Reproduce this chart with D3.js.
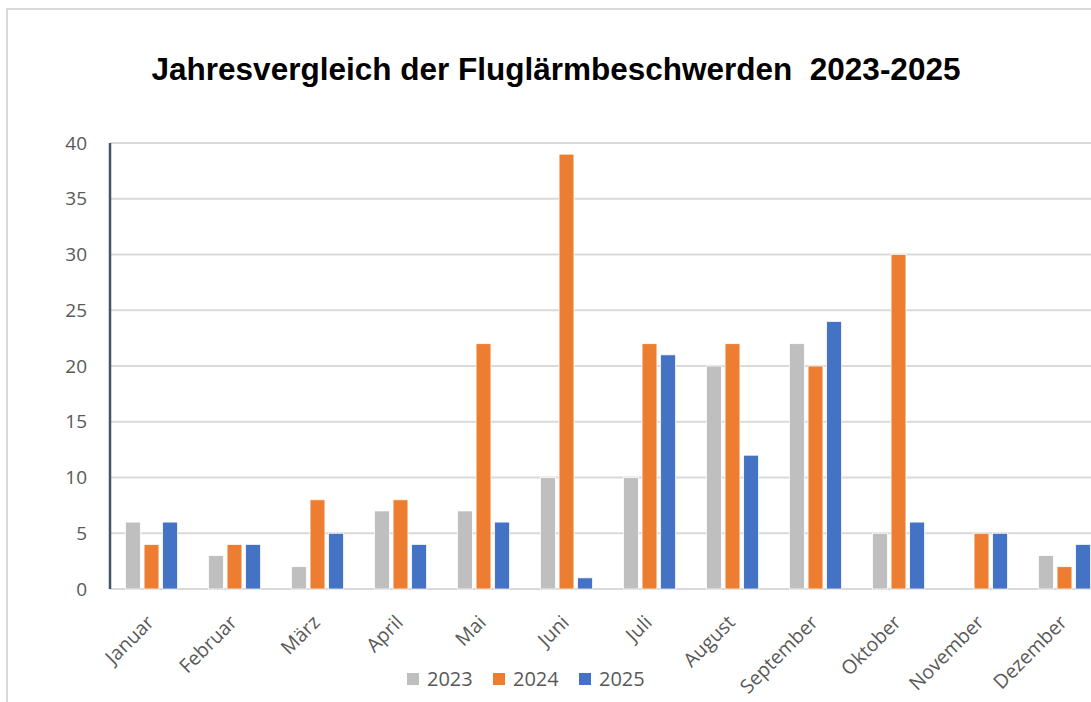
<!DOCTYPE html>
<html>
<head>
<meta charset="utf-8">
<script src="https://cdn.jsdelivr.net/npm/d3@7"></script>
<style>
    body { margin: 0; background: #fff; }
    svg { display: block; }
</style>
</head>
<body>
<svg id="chart" width="1091" height="702"></svg>
<script>
var months = ['Januar', 'Februar', 'März', 'April', 'Mai', 'Juni', 'Juli',
    'August', 'September', 'Oktober', 'November', 'Dezember'];
var years = ['2023', '2024', '2025'];
var values2023 = [6, 3, 2, 7, 7, 10, 10, 20, 22, 5, 0, 3];
var values2024 = [4, 4, 8, 8, 22, 39, 22, 22, 20, 30, 5, 2];
var values2025 = [6, 4, 5, 4, 6, 1, 21, 12, 24, 6, 5, 4];
var yTicks = [0, 5, 10, 15, 20, 25, 30, 35, 40];
var colors = ['#bfbfbf', '#ed7d31', '#4472c4'];

var seriesValues = [values2023, values2024, values2025];
var font = '"Open Sans", "Noto Sans", sans-serif';
var textColor = '#595959';

var svg = d3.select('#chart');

// Frame of the chart area (cut off at right and bottom)
svg.append('rect')
    .attr('x', 7).attr('y', 9)
    .attr('width', 1300).attr('height', 900)
    .style('fill', 'none')
    .style('stroke', '#d9d9d9')
    .style('stroke-width', 2);

var plotLeft = 110;
var step = 83;

var x0 = d3.scaleBand()
    .domain(months)
    .range([plotLeft, plotLeft + step * months.length])
    .paddingInner(0.373)
    .paddingOuter(0.1865);

var x1 = d3.scaleBand()
    .domain(years)
    .range([0, x0.bandwidth()])
    .paddingInner(0.2);

var y = d3.scaleLinear().domain([0, 40]).range([589, 143]);

// Gridlines
svg.append('g')
    .selectAll('line')
    .data(yTicks)
    .join('line')
    .attr('x1', plotLeft)
    .attr('x2', 1091)
    .attr('y1', function(d) { return y(d); })
    .attr('y2', function(d) { return y(d); })
    .style('stroke', '#d9d9d9')
    .style('stroke-width', 2);

// Y tick labels
svg.append('g')
    .selectAll('text')
    .data(yTicks)
    .join('text')
    .attr('x', 87)
    .attr('y', function(d) { return y(d); })
    .attr('dy', '0.35em')
    .style('text-anchor', 'end')
    .style('font-family', font)
    .style('font-size', '19px')
    .style('fill', textColor)
    .text(function(d) { return d; });

// Bars
var rows = months.map(function(m, i) {
    return {
        month: m,
        values: years.map(function(yr, j) {
            return { year: yr, value: seriesValues[j][i], color: colors[j] };
        })
    };
});

svg.append('g')
    .selectAll('g')
    .data(rows)
    .join('g')
    .attr('transform', function(d) { return 'translate(' + x0(d.month) + ',0)'; })
    .selectAll('rect')
    .data(function(d) { return d.values.filter(function(v) { return v.value > 0; }); })
    .join('rect')
    .attr('x', function(d) { return x1(d.year); })
    .attr('width', x1.bandwidth())
    .attr('y', function(d) { return y(d.value); })
    .attr('height', function(d) { return y(0) - y(d.value); })
    .style('fill', function(d) { return d.color; })
    .style('stroke', '#fff')
    .style('stroke-width', 0.75);

// Vertical axis line
svg.append('line')
    .attr('x1', plotLeft).attr('x2', plotLeft)
    .attr('y1', y(40)).attr('y2', y(0))
    .style('stroke', '#44546a')
    .style('stroke-width', 2.5);

// X labels, rotated
svg.append('g')
    .selectAll('text')
    .data(months)
    .join('text')
    .attr('transform', function(d) {
        var cx = x0(d) + x0.bandwidth() / 2 - 6;
        return 'translate(' + cx + ',614) rotate(-45)';
    })
    .attr('dy', '0.7em')
    .style('text-anchor', 'end')
    .style('font-family', font)
    .style('font-size', '19.5px')
    .style('fill', textColor)
    .text(function(d) { return d; });

// Title
svg.append('text')
    .attr('x', 556)
    .attr('y', 80)
    .style('text-anchor', 'middle')
    .style('white-space', 'pre')
    .style('font-family', '"Liberation Sans", Arial, sans-serif')
    .style('font-weight', 'bold')
    .style('font-size', '31.5px')
    .style('fill', '#000')
    .text('Jahresvergleich der Fluglärmbeschwerden  2023-2025');

// Legend
var legend = svg.append('g')
    .selectAll('g')
    .data(years)
    .join('g')
    .attr('transform', function(d, i) { return 'translate(' + (407 + i * 86) + ',673)'; });

legend.append('rect')
    .attr('width', 12).attr('height', 12)
    .style('fill', function(d, i) { return colors[i]; });

legend.append('text')
    .attr('x', 20)
    .attr('y', 13)
    .style('font-family', font)
    .style('font-size', '20px')
    .style('fill', textColor)
    .text(function(d) { return d; });
</script>
</body>
</html>
